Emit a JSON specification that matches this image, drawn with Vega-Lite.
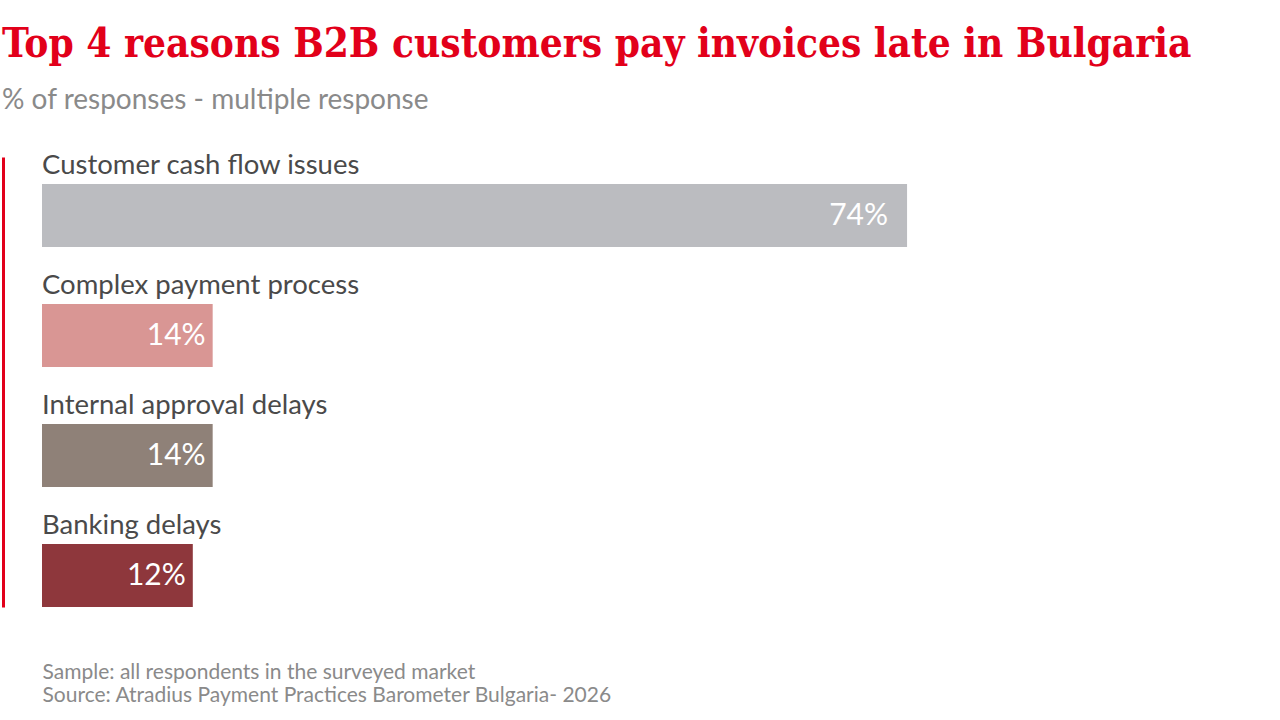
{
  "$schema": "https://vega.github.io/schema/vega-lite/v6.json",
  "autosize": {"type": "none"},
  "padding": {"left": 42, "top": 157, "right": 69, "bottom": 113},
  "width": 1169,
  "height": 450,
  "background": "white",
  "title": {
    "text": "Top 4 reasons B2B customers pay invoices late in Bulgaria",
    "subtitle": "% of responses - multiple response",
    "anchor": "start",
    "frame": "group",
    "dx": -40,
    "offset": 37,
    "font": "DejaVu Serif Condensed",
    "fontWeight": "bold",
    "fontSize": 40.2,
    "color": "#E2001A",
    "subtitleFont": "Lato",
    "subtitleFontSize": 28,
    "subtitleColor": "#8A8A8A",
    "subtitlePadding": 22
  },
  "data": {
    "values": [
      {"reason": "Customer cash flow issues", "value": 74, "label": "74%"},
      {"reason": "Complex payment process", "value": 14.6, "label": "14%"},
      {"reason": "Internal approval delays", "value": 14.6, "label": "14%"},
      {"reason": "Banking delays", "value": 12.9, "label": "12%"}
    ]
  },
  "encoding": {
    "y": {
      "field": "reason",
      "type": "nominal",
      "sort": null,
      "scale": {"paddingInner": 0.475, "paddingOuter": 0.1125, "align": 1},
      "axis": {
        "labels": false,
        "ticks": false,
        "title": null,
        "grid": false,
        "domainColor": "#E2001A",
        "domainWidth": 3,
        "offset": 39
      }
    }
  },
  "layer": [
    {
      "mark": {"type": "bar"},
      "encoding": {
        "x": {
          "field": "value",
          "type": "quantitative",
          "scale": {"domain": [0, 100], "nice": false},
          "axis": {
            "labels": false,
            "ticks": false,
            "domain": false,
            "grid": false,
            "title": ["Sample: all respondents in the surveyed market", "Source: Atradius Payment Practices Barometer Bulgaria- 2026"],
            "titleAnchor": "start",
            "titleAlign": "left",
            "titleBaseline": "top",
            "titleFont": "Lato",
            "titleFontSize": 21,
            "titleFontWeight": "normal",
            "titleColor": "#8A8A8A",
            "titleLineHeight": 23,
            "titlePadding": 54
          }
        },
        "color": {
          "field": "reason",
          "type": "nominal",
          "scale": {
            "domain": ["Customer cash flow issues", "Complex payment process", "Internal approval delays", "Banking delays"],
            "range": ["#BBBCC0", "#D99694", "#8F8178", "#8E373C"]
          },
          "legend": null
        }
      }
    },
    {
      "mark": {"type": "text", "align": "left", "baseline": "alphabetic", "dy": -10, "font": "Lato", "fontSize": 27.5, "color": "#4A4A4A"},
      "encoding": {
        "x": {"datum": 0},
        "y": {"field": "reason", "type": "nominal", "sort": null, "bandPosition": 0},
        "text": {"field": "reason"}
      }
    },
    {
      "transform": [{"filter": "datum.value >= 50"}],
      "mark": {"type": "text", "align": "right", "baseline": "middle", "dx": -19, "font": "Lato", "fontSize": 30, "color": "white"},
      "encoding": {
        "x": {"field": "value", "type": "quantitative"},
        "text": {"field": "label"}
      }
    },
    {
      "transform": [{"filter": "datum.value < 50"}],
      "mark": {"type": "text", "align": "right", "baseline": "middle", "dx": -7, "font": "Lato", "fontSize": 30, "color": "white"},
      "encoding": {
        "x": {"field": "value", "type": "quantitative"},
        "text": {"field": "label"}
      }
    }
  ],
  "config": {"view": {"stroke": null}}
}
